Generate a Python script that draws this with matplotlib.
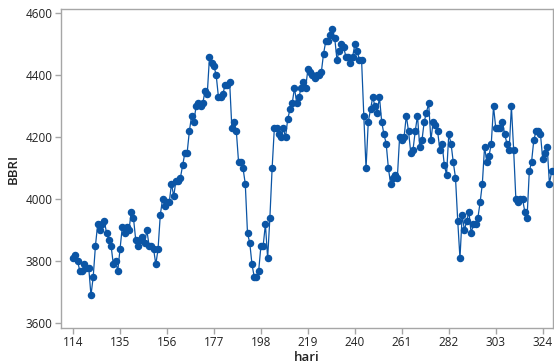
import matplotlib
matplotlib.use("Agg")
import matplotlib.pyplot as plt
import numpy as np

day_start = 114
bbri = [
    3810, 3820, 3800, 3770, 3770, 3790, 3780, 3780, 3690, 3750,
    3850, 3920, 3900, 3920, 3930, 3890, 3870, 3850, 3790, 3800,
    3770, 3840, 3910, 3890, 3910, 3900, 3960, 3940, 3870, 3850,
    3870, 3880, 3860, 3900, 3850, 3850, 3840, 3790, 3840, 3950,
    4000, 3980, 3990, 3990, 4050, 4010, 4060, 4060, 4070, 4110,
    4150, 4150, 4220, 4270, 4250, 4300, 4310, 4300, 4310, 4350,
    4340, 4460, 4440, 4430, 4400, 4330, 4330, 4340, 4370, 4370,
    4380, 4230, 4250, 4220, 4120, 4120, 4100, 4050, 3890, 3860,
    3790, 3750, 3750, 3770, 3850, 3850, 3920, 3810, 3940, 4100,
    4230, 4230, 4210, 4200, 4230, 4200, 4260, 4290, 4310, 4360,
    4310, 4330, 4360, 4380, 4360, 4420, 4410, 4400, 4390, 4400,
    4400, 4410, 4470, 4510, 4510, 4530, 4550, 4520, 4450, 4480,
    4500, 4490, 4460, 4460, 4440, 4460, 4500, 4480, 4450, 4450,
    4270, 4100, 4250, 4290, 4330, 4300, 4280, 4330, 4250, 4210,
    4180, 4100, 4050, 4070, 4080, 4070, 4200, 4190, 4200, 4270,
    4220, 4150, 4160, 4220, 4270, 4170, 4190, 4250, 4280, 4310,
    4190, 4250, 4240, 4220, 4160, 4180, 4110, 4080, 4210, 4180,
    4120, 4070, 3930, 3810, 3950, 3900, 3930, 3960, 3890, 3920,
    3920, 3940, 3990, 4050, 4170, 4120, 4140, 4180, 4300, 4230,
    4230, 4230, 4250, 4210, 4180, 4160, 4300, 4160, 4000, 3990,
    4000, 4000, 3960, 3940, 4090, 4120, 4190, 4220, 4220, 4210,
    4130, 4150, 4170, 4050, 4090,
]
hari = np.arange(day_start, day_start + len(bbri))
xticks = [114, 135, 156, 177, 198, 219, 240, 261, 282, 303, 324]
yticks = [3600, 3800, 4000, 4200, 4400, 4600]

plt.rcParams['font.family'] = ['Open Sans', 'DejaVu Sans']

fig = plt.figure(figsize=(5.54, 3.63), dpi=100)
ax = fig.add_axes([61/554, 1 - 328/363, (553-61)/554, (328-9)/363])

color = '#0B55A5'
ax.plot(hari, bbri, color=color, linewidth=0.9, marker='o', markersize=4.4,
        markerfacecolor=color, markeredgecolor=color, clip_on=False, zorder=3)

ax.set_xlim(108.6, 328.6)
ax.set_ylim(3585, 4614)
ax.set_xticks(xticks)
ax.set_yticks(yticks)

for s in ax.spines.values():
    s.set_color('#a6a6a6')
    s.set_linewidth(1.0)
ax.tick_params(axis='both', colors='#a6a6a6', length=4, width=1.0,
               labelcolor='#222222', labelsize=8.5, direction='out', pad=2)

ax.set_xlabel('hari', fontsize=9.5, fontweight='semibold', color='#222222', labelpad=1)
ax.set_ylabel('BBRI', fontsize=9.5, fontweight='semibold', color='#222222', labelpad=4)

fig.savefig('out.png', dpi=100)
